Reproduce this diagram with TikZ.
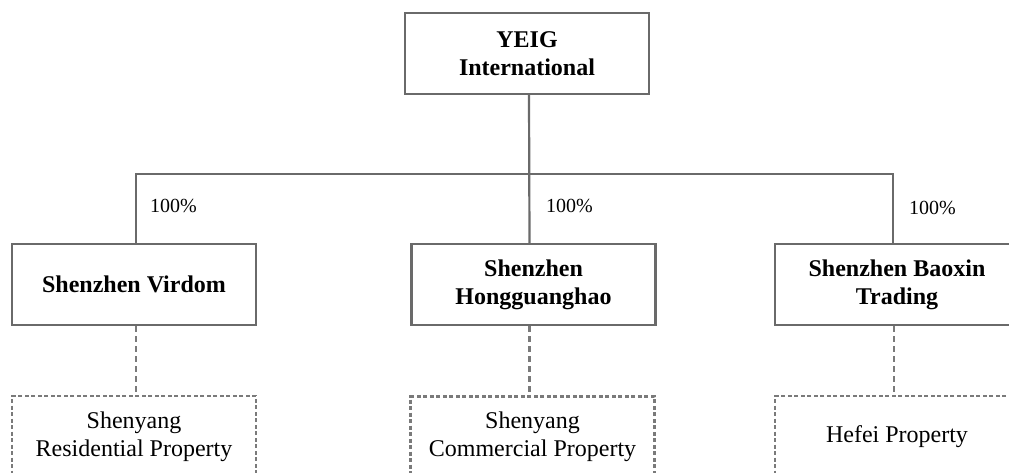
\documentclass[tikz,border=0pt]{standalone}
\usepackage{fontspec}
\setmainfont{Liberation Serif}
\begin{document}
\begin{tikzpicture}[x=1pt,y=-1pt,
  solidbox/.style={draw=linegray, line width=2.2pt, fill=white, minimum width=244pt, minimum height=81pt, inner sep=0pt, align=center, font=\fontsize{24}{28}\selectfont\bfseries},
  dashbox/.style={draw=dashgray, line width=2.2pt, dash pattern=on 4pt off 2.5pt, minimum width=244pt, minimum height=81pt, inner sep=0pt, align=center, font=\fontsize{24}{28}\selectfont},
  link/.style={draw=linegray, line width=2.2pt},
  dlink/.style={draw=dashgray, line width=2.2pt, dash pattern=on 6pt off 4pt},
  pct/.style={anchor=west, inner sep=0pt, font=\fontsize{20}{24}\selectfont}]
\definecolor{linegray}{HTML}{6A6A6A}
\definecolor{dashgray}{HTML}{7A7A7A}
\useasboundingbox (0,0) rectangle (1009,473);
\clip (0,0) rectangle (1009,473);

\node[solidbox] (top) at (527,53.5) {YEIG\\International};
\node[solidbox] (A) at (134,284.5) {Shenzhen Virdom};
\node[solidbox] (B) at (533.5,284.5) {Shenzhen\\Hongguanghao};
\node[solidbox] (C) at (897,284.5) {Shenzhen Baoxin\\Trading};

\node[dashbox] (D1) at (134,436.5) {Shenyang\\Residential Property};
\node[dashbox] (D2) at (532.5,437) {Shenyang\\Commercial Property};
\node[dashbox] (D3) at (897,436.5) {Hefei Property};

\coordinate (barL) at (136,174);
\coordinate (barR) at (893,174);

\draw[link] ([xshift=2pt]top.south) -- ([xshift=-4pt]B.north);
\draw[link] ([xshift=2pt]A.north) -- (barL) -- (barR) -- ([xshift=-4pt]C.north);

\draw[dlink] ([xshift=2pt]A.south) -- ([xshift=2pt]D1.north);
\draw[dlink] ([xshift=-4pt]B.south) -- ([xshift=-3pt]D2.north);
\draw[dlink] ([xshift=-3pt]C.south) -- ([xshift=-3pt]D3.north);

\node[pct] (p1) at (150,206) {100\%};
\node[pct] (p2) at (546,206) {100\%};
\node[pct] (p3) at (909,208) {100\%};
\end{tikzpicture}
\end{document}
